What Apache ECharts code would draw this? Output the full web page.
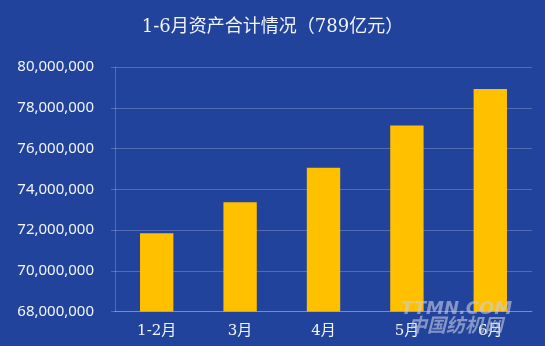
<!DOCTYPE html>
<html>
<head>
<meta charset="utf-8">
<script src="https://cdn.jsdelivr.net/npm/echarts@6/dist/echarts.min.js"></script>
<style>
html,body{margin:0;padding:0;background:#21439c;}
#c{width:545px;height:346px;}
</style>
</head>
<body>
<div id="c"></div>
<script>
const categories = ['1-2月', '3月', '4月', '5月', '6月'];
const assetValues = [71840000, 73360000, 75050000, 77130000, 78920000];
const yTicks = [68000000, 70000000, 72000000, 74000000, 76000000, 78000000, 80000000];
const titleText = '1-6月资产合计情况（789亿元）';

const chart = echarts.init(document.getElementById('c'), null, {renderer: 'canvas'});
chart.setOption({
  backgroundColor: '#21439c',
  animation: false,
  title: {
    text: titleText,
    left: 'center',
    top: 13,
    textStyle: {
      color: '#f2f5fb',
      fontSize: 18,
      fontWeight: 'normal',
      fontFamily: '"DejaVu Serif", "Noto Sans CJK SC", serif'
    }
  },
  grid: {left: 115, right: 13, top: 67, bottom: 34.5},
  xAxis: {
    type: 'category',
    data: categories,
    axisLine: {show: true, lineStyle: {color: 'rgba(255,255,255,0.22)', width: 1}},
    axisTick: {show: false},
    axisLabel: {
      color: '#f2f5fb',
      fontSize: 15,
      margin: 12,
      fontFamily: '"DejaVu Serif", "Noto Sans CJK SC", serif'
    }
  },
  yAxis: {
    type: 'value',
    min: yTicks[0],
    max: yTicks[yTicks.length - 1],
    interval: yTicks[1] - yTicks[0],
    axisLine: {show: true, lineStyle: {color: 'rgba(255,255,255,0.22)', width: 1}},
    axisTick: {show: true, length: 4, inside: false, lineStyle: {color: 'rgba(255,255,255,0.22)'}},
    splitLine: {show: true, lineStyle: {color: 'rgba(255,255,255,0.22)', width: 1}},
    axisLabel: {
      color: '#f2f5fb',
      fontSize: 15,
      margin: 21,
      fontFamily: '"Noto Sans", sans-serif',
      formatter: v => v.toLocaleString('en-US')
    }
  },
  series: [{
    type: 'bar',
    data: assetValues,
    barWidth: '40%',
    itemStyle: {color: '#ffc000'}
  }],
  graphic: [
    {
      type: 'text', left: 401, top: 300, z: 100,
      style: {
        text: 'TTMN.COM', fill: 'rgba(200,205,225,0.6)',
        font: 'italic bold 18px "DejaVu Sans", sans-serif'
      }
    },
    {
      type: 'text', left: 408, top: 315, z: 100,
      style: {
        text: '中国纺机网', fill: 'rgba(200,205,225,0.6)',
        font: 'italic bold 19px "Noto Sans CJK SC", sans-serif'
      }
    }
  ]
});
</script>
</body>
</html>
